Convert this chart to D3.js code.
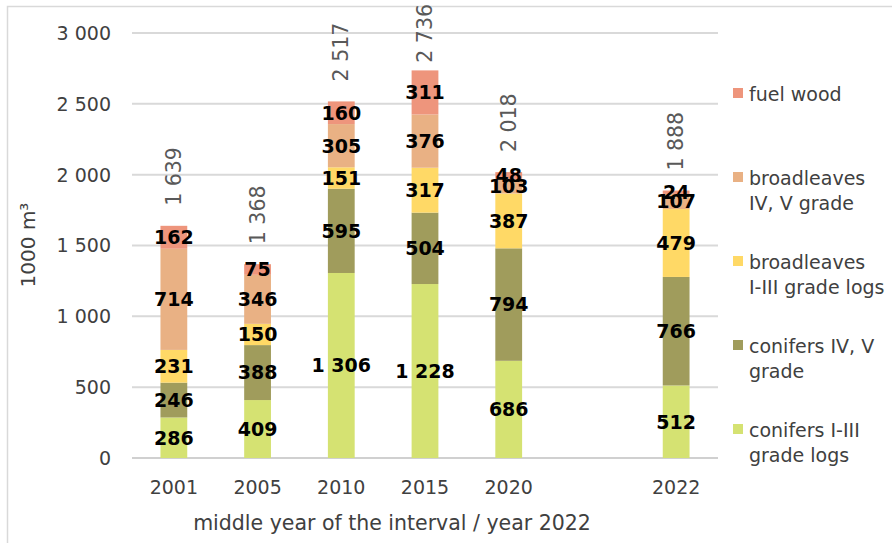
<!DOCTYPE html>
<html>
<head>
<meta charset="utf-8">
<script src="https://cdn.jsdelivr.net/npm/d3@7"></script>
<style>
  body { margin: 0; background: #fff; }
  svg { font-family: "DejaVu Sans", sans-serif; }
</style>
</head>
<body>
<div class="container"></div>
<script>
// categories (one empty slot between 2020 and 2022)
const years = ["2001", "2005", "2010", "2015", "2020", "", "2022"];
const seriesNames = ["conifers I-III grade logs", "conifers IV, V grade", "broadleaves I-III grade logs", "broadleaves IV, V grade", "fuel wood"];
const coniferLogs = [286, 409, 1306, 1228, 686, null, 512];
const coniferLow = [246, 388, 595, 504, 794, null, 766];
const broadLogs = [231, 150, 151, 317, 387, null, 479];
const broadLow = [714, 346, 305, 376, 103, null, 107];
const fuelWood = [162, 75, 160, 311, 48, null, 24];
const totals = [1639, 1368, 2517, 2736, 2018, null, 1888];
const yTicks = [0, 500, 1000, 1500, 2000, 2500, 3000];
const colors = ["#d5e272", "#a09c5c", "#ffd966", "#e9b184", "#ee957c"];
const legendLines = [["fuel wood"], ["broadleaves", "IV, V grade"], ["broadleaves", "I-III grade logs"], ["conifers IV, V", "grade"], ["conifers I-III", "grade logs"]];

const width = 892, height = 543;
const margin = { top: 33, right: 174, bottom: 85, left: 132 };

const fmt = v => d3.format(",")(v).replace(/,/g, " ");

const svg = d3.select(".container").append("svg")
  .attr("width", width).attr("height", height);

// chart border (only left and top visible)
svg.append("path").attr("d", "M7.5,543 V6.5 H892")
  .attr("fill", "none").attr("stroke", "#d9d9d9").attr("stroke-width", 1.5);

const x = d3.scaleBand().domain(d3.range(years.length))
  .range([margin.left, width - margin.right]).paddingInner(0.68).paddingOuter(0.34);
const y = d3.scaleLinear().domain([0, 3000]).range([height - margin.bottom, margin.top]);

// gridlines
svg.append("g").selectAll("line").data(yTicks).join("line")
  .attr("x1", margin.left).attr("x2", width - margin.right)
  .attr("y1", d => y(d)).attr("y2", d => y(d))
  .attr("stroke", d => d === 0 ? "#d0d0d0" : "#d9d9d9").attr("stroke-width", 2);

// y tick labels
svg.append("g").selectAll("text").data(yTicks).join("text")
  .attr("x", 111).attr("y", d => y(d)).attr("dy", "0.36em")
  .attr("text-anchor", "end").attr("fill", "#404040").style("font-size", "19px")
  .text(fmt);

// x tick labels
svg.append("g").selectAll("text").data(years).join("text")
  .attr("x", (d, i) => x(i) + x.bandwidth() / 2).attr("y", 494)
  .attr("text-anchor", "middle").attr("fill", "#404040").style("font-size", "19px")
  .text(d => d);

// axis titles
svg.append("text").attr("x", 392).attr("y", 530).attr("text-anchor", "middle")
  .attr("fill", "#404040").style("font-size", "20.5px")
  .text("middle year of the interval / year 2022");
svg.append("text").attr("transform", "translate(35,245) rotate(-90)")
  .attr("text-anchor", "middle").attr("fill", "#404040").style("font-size", "20px")
  .text("1000 m³");

// stacked data
const rows = years.map((yr, i) => ({
  i, c0: coniferLogs[i], c1: coniferLow[i], c2: broadLogs[i], c3: broadLow[i], c4: fuelWood[i]
})).filter(d => d.c0 != null);
const stack = d3.stack().keys(["c0", "c1", "c2", "c3", "c4"]);
const layers = stack(rows);

const gBars = svg.append("g");
layers.forEach((layer, k) => {
  gBars.append("g").attr("fill", colors[k]).selectAll("rect").data(layer).join("rect")
    .attr("x", d => x(d.data.i)).attr("width", x.bandwidth())
    .attr("y", d => y(d[1])).attr("height", d => y(d[0]) - y(d[1]));
});

// segment labels
layers.forEach((layer, k) => {
  svg.append("g").selectAll("text").data(layer).join("text")
    .attr("x", d => x(d.data.i) + x.bandwidth() / 2)
    .attr("y", d => y((d[0] + d[1]) / 2)).attr("dy", "0.36em")
    .attr("text-anchor", "middle").attr("fill", "#000")
    .style("font-size", "19px").style("font-weight", "bold")
    .text(d => fmt(d[1] - d[0]));
});

// totals, rotated
const totalData = totals.map((t, i) => ({ t, i })).filter(d => d.t != null);
svg.append("g").selectAll("text").data(totalData).join("text")
  .attr("fill", "#595959").style("font-size", "20.5px")
  .text(d => fmt(d.t))
  .each(function (d) {
    const len = this.getComputedTextLength();
    const base = Math.max(y(d.t) - 20, len + 4);
    d3.select(this).attr("transform",
      `translate(${x(d.i) + x.bandwidth() / 2 + 7},${base}) rotate(-90)`);
  });

// legend
const legend = svg.append("g");
const legendColors = colors.slice().reverse();
legendLines.forEach((lines, k) => {
  const ly = 94 + k * 84;
  legend.append("rect").attr("x", 733).attr("y", ly - 6)
    .attr("width", 10).attr("height", 10).attr("fill", legendColors[k]);
  lines.forEach((t, j) => {
    legend.append("text").attr("x", 749).attr("y", ly + j * 25.5).attr("dy", "0.36em")
      .attr("fill", "#404040").style("font-size", "19px").text(t);
  });
});
</script>
</body>
</html>
